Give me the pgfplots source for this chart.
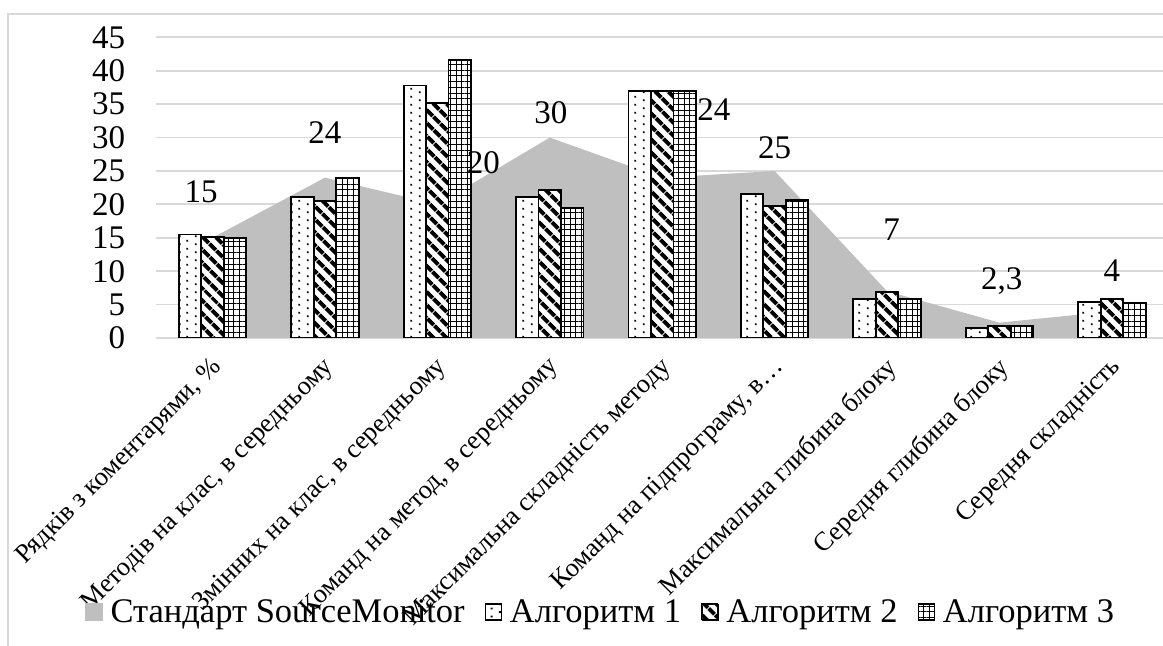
\documentclass[border=0pt]{standalone}
\usepackage{pgfplots}
\pgfplotsset{compat=1.18}
\usepackage{fontspec}
\setmainfont{Liberation Serif}
\usetikzlibrary{patterns,patterns.meta}

\definecolor{areagray}{HTML}{BFBFBF}
\definecolor{gridgray}{HTML}{D9D9D9}

\pgfdeclarepatternformonly{sparsedots}{\pgfqpoint{0bp}{0bp}}{\pgfqpoint{16bp}{8bp}}{\pgfqpoint{16bp}{8bp}}{%
  \pgfpathrectangle{\pgfqpoint{3bp}{1bp}}{\pgfqpoint{2bp}{2bp}}%
  \pgfpathrectangle{\pgfqpoint{11bp}{5bp}}{\pgfqpoint{2bp}{2bp}}%
  \pgfusepath{fill}}

\newcommand{\bigf}{\fontsize{33bp}{40bp}\selectfont}
\newcommand{\legf}{\fontsize{34.5bp}{41bp}\selectfont}
\newcommand{\catf}{\fontsize{26.5bp}{32bp}\selectfont}

\tikzset{
  alga/.style={draw=black, preaction={fill=white}, pattern=sparsedots},
  algb/.style={draw=black, preaction={fill=white}, pattern={Lines[angle=-45, distance=10bp, line width=4.5bp]}},
  algc/.style={draw=black, preaction={fill=white}, pattern={Hatch[angle=0, distance=5.7bp, line width=1bp]}},
}

\begin{document}
\begin{tikzpicture}
\useasboundingbox (0bp,0bp) rectangle (1163bp,646bp);
\draw[gridgray, line width=1.6bp] (8bp,-20bp) -- (8bp,632bp) -- (1200bp,632bp);
\begin{axis}[
  at={(156.25bp,308bp)}, anchor=south west,
  scale only axis, width=1011.9bp, height=300.6bp,
  xmin=-0.5, xmax=8.5, ymin=0, ymax=45,
  ytick={0,5,...,45}, xtick={0,...,8},
  xticklabels={{Рядків з коментарями, \%},
    {Методів на клас, в середньому},
    {Змінних на клас, в середньому},
    {Команд на метод, в середньому},
    {Максимальна складність методу},
    {Команд на підпрограму, в…},
    {Максимальна глибина блоку},
    {Середня глибина блоку},
    {Середня складність}},
  ymajorgrids, grid style={gridgray, line width=1.8bp},
  axis line style={draw=none}, major tick length=0pt,
  /pgf/number format/assume math mode=true,
  yticklabel style={font=\bigf, inner sep=0pt, anchor=east, xshift=-31bp},
  xticklabel style={font=\catf, inner sep=0pt, xshift=-3bp, yshift=-17bp, rotate=45, anchor=north east},
  legend columns=4,
  legend style={draw=none, fill=none, at={(-0.0704,-0.911)}, anchor=west,
    font=\legf, inner sep=0pt, nodes={inner sep=0pt},
    /tikz/every odd column/.append style={column sep=8bp},
    /tikz/every even column/.append style={column sep=20bp}},
]
\addplot[fill=areagray, draw=none, forget plot] coordinates {
  (0,15) (1,24) (2,20) (3,30) (4,24) (5,25) (6,7) (7,2.3) (8,4)} \closedcycle;

\addplot[ybar, bar width=0.2, bar shift=-0.2, alga, line width=1.8bp, forget plot] coordinates {
  (0,15.5) (1,21.1) (2,37.8) (3,21.1) (4,37.0) (5,21.5) (6,5.8) (7,1.45) (8,5.4)};
\addplot[ybar, bar width=0.2, bar shift=0, algb, line width=1.8bp, forget plot] coordinates {
  (0,15.1) (1,20.5) (2,35.2) (3,22.1) (4,37.0) (5,19.8) (6,6.9) (7,1.75) (8,5.8)};
\addplot[ybar, bar width=0.2, bar shift=0.2, algc, line width=1.8bp, forget plot] coordinates {
  (0,15.0) (1,23.9) (2,41.6) (3,19.5) (4,37.0) (5,20.6) (6,5.8) (7,1.75) (8,5.2)};

\addplot[draw=none, mark=none, forget plot, nodes near coords, point meta=explicit symbolic,
  every node near coord/.style={anchor=base, font=\bigf, inner sep=0pt}] coordinates {
  (-0.1,20.3) [15] (1,29.1) [24] (2.41,24.7) [20] (3.01,32.1) [30] (4.46,32.6) [24]
  (5,26.9) [25] (6.04,14.6) [7] (7.02,7.2) [{2,3}] (8,8.4) [4]};

\addlegendimage{legend image code/.code={\fill[areagray] (0bp,-8.5bp) rectangle (17bp,8.5bp);}}
\addlegendentry{Стандарт SourceMonitor}
\addlegendimage{legend image code/.code={\draw[alga, line width=1.3bp] (0bp,-8bp) rectangle (16bp,8bp);}}
\addlegendentry{Алгоритм 1}
\addlegendimage{legend image code/.code={\draw[algb, line width=1.3bp] (0bp,-8bp) rectangle (16bp,8bp);}}
\addlegendentry{Алгоритм 2}
\addlegendimage{legend image code/.code={\draw[algc, line width=1.3bp] (0bp,-8bp) rectangle (16bp,8bp);}}
\addlegendentry{Алгоритм 3}
\end{axis}
\end{tikzpicture}
\end{document}
